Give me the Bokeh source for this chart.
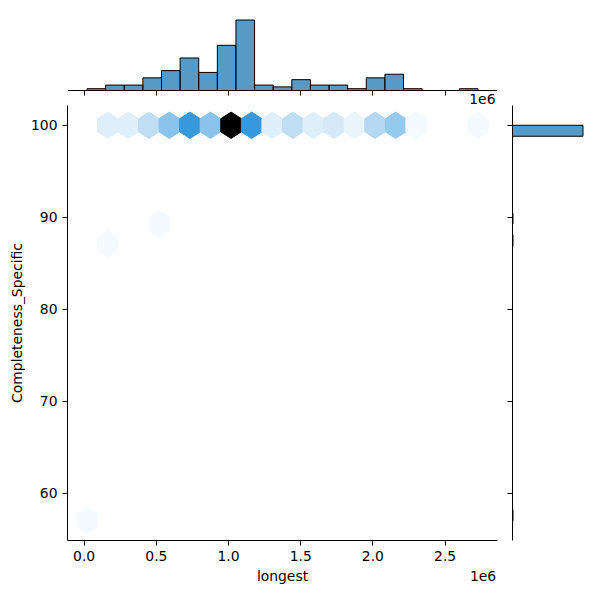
import colorsys
import numpy as np
from bokeh.plotting import figure
from bokeh.layouts import column, row
from bokeh.models import Range1d, FixedTicker, Label, CustomJSTickFormatter, LinearAxis
from bokeh.embed import file_html
from bokeh.resources import INLINE

# ---------------- data ----------------
x_label = "longest"
y_label = "Completeness_Specific"
offset_text = "1e6"

x_min, x_max = 0.02e6, 2.7275e6      # data extent of "longest"
y_min, y_max = 57.0, 100.0           # data extent of "Completeness_Specific"
gridsize = 19

# hex cells: lattice (1 = main grid, 2 = offset grid), column i, row j, count
hex_lattice = [1, 1, 1, 1, 1, 1, 1, 1, 1, 1, 1, 1, 1, 1, 1, 1, 1, 1, 2, 1]
hex_i = [1, 2, 3, 4, 5, 6, 7, 8, 9, 10, 11, 12, 13, 14, 15, 16, 19, 1, 3, 0]
hex_j = [10, 10, 10, 10, 10, 10, 10, 10, 10, 10, 10, 10, 10, 10, 10, 10, 10, 7, 7, 0]
hex_count = [3, 3, 6, 11, 19, 11, 41, 19, 3, 6, 3, 4, 2, 7, 10, 1, 1, 1, 1, 1]

# marginal histograms
x_hist_counts = [1, 3, 3, 7, 11, 18, 10, 25, 39, 3, 2, 6, 3, 3, 1, 7, 9, 1, 0, 0, 1]
y_hist_counts = [1, 0, 0, 0, 0, 0, 0, 0, 0, 0, 0, 0, 0, 0, 0, 0, 0, 0,
                 0, 0, 0, 0, 0, 0, 0, 1, 0, 1, 0, 0, 0, 0, 0, 0, 0, 150]

x_ticks = [0, 500000, 1000000, 1500000, 2000000, 2500000]
y_ticks = [60, 70, 80, 90, 100]

base_color = "#1f77b4"
FONT = "DejaVu Sans"
FS = "13.9px"

# ---------------- derived ----------------
x_pad = 0.05 * (x_max - x_min)
y_pad = 0.05 * (y_max - y_min)
x_range = Range1d(x_min - x_pad, x_max + x_pad)
y_range = Range1d(y_min - y_pad, y_max + y_pad)

sx = (x_max - x_min) / gridsize
ny = int(gridsize / np.sqrt(3))
sy = (y_max - y_min) / ny

# seaborn jointplot colormap: lightness 1 -> 0 in the hue of base colour
r0, g0, b0 = [int(base_color[k:k + 2], 16) / 255 for k in (1, 3, 5)]
h0, l0, s0 = colorsys.rgb_to_hls(r0, g0, b0)
anchors = np.array([colorsys.hls_to_rgb(h0, l, s0) for l in np.linspace(1, 0, 12)])
anchor_pos = np.linspace(0, 1, 12)


def cmap(t):
    rgb = [np.interp(t, anchor_pos, anchors[:, c]) for c in range(3)]
    return "#%02x%02x%02x" % tuple(int(round(v * 255)) for v in rgb)


cmax = max(hex_count)
xs, ys, colors = [], [], []
poly = np.array([[.5, -.5], [.5, .5], [0., 1.], [-.5, .5], [-.5, -.5], [0., -1.]])
for lat, i, j, c in zip(hex_lattice, hex_i, hex_j, hex_count):
    off = 0.0 if lat == 1 else 0.5
    cx = x_min + (i + off) * sx
    cy = y_min + (j + off) * sy
    xs.append(list(cx + poly[:, 0] * sx))
    ys.append(list(cy + poly[:, 1] * sy / 3))
    colors.append(cmap(c / cmax))


def style_axis(ax):
    ax.axis_line_color = "black"
    ax.axis_line_width = 1
    ax.major_tick_line_color = "black"
    ax.major_tick_in = 0
    ax.major_tick_out = 5
    ax.minor_tick_line_color = None
    ax.major_label_text_font = FONT
    ax.major_label_text_font_size = FS
    ax.major_label_text_color = "black"
    ax.axis_label_text_font = FONT
    ax.axis_label_text_font_size = FS
    ax.axis_label_text_font_style = "normal"
    ax.axis_label_text_color = "black"


def hide_labels(ax):
    ax.formatter = CustomJSTickFormatter(code="return '';")
    ax.major_label_text_font_size = "0px"
    ax.major_label_standoff = 0


# ---------------- main hex plot ----------------
p = figure(width=502, height=495, x_range=x_range, y_range=y_range,
           output_backend="svg", toolbar_location=None,
           min_border_left=67, min_border_right=5, min_border_top=0, min_border_bottom=60)
p.patches(xs, ys, fill_color=colors, line_color=colors, line_width=1)
p.xgrid.visible = False
p.ygrid.visible = False
p.outline_line_color = None
p.background_fill_color = "white"
p.border_fill_color = "white"
style_axis(p.xaxis[0])
style_axis(p.yaxis[0])
p.xaxis.ticker = FixedTicker(ticks=x_ticks)
p.xaxis.formatter = CustomJSTickFormatter(code="return (tick/1e6).toFixed(1);")
p.yaxis.ticker = FixedTicker(ticks=y_ticks)
p.yaxis.axis_label = y_label
p.xaxis.major_label_standoff = 5
p.yaxis.major_label_standoff = 5
p.yaxis.axis_label_standoff = 3

# second row under the x axis: axis title (centre) and offset text (right)
span = x_range.end - x_range.start
x_mid = 0.5 * (x_range.start + x_range.end)
x_off = x_range.end - span * 14.5 / 430
title_axis = LinearAxis(
    ticker=FixedTicker(ticks=[x_mid, x_off]),
    formatter=CustomJSTickFormatter(args=dict(lab=x_label, off=offset_text, thr=0.5 * (x_mid + x_off)),
                                    code="return tick > thr ? off : lab;"))
style_axis(title_axis)
title_axis.axis_line_color = None
title_axis.major_tick_line_color = None
title_axis.major_tick_out = 0
title_axis.major_label_standoff = 4
p.add_layout(title_axis, "below")

# ---------------- top marginal ----------------
x_edges = np.linspace(x_min, x_max, len(x_hist_counts) + 1)
top_max = max(x_hist_counts) * 1.05
pt = figure(width=600, height=105, x_range=x_range,
            y_range=Range1d(-top_max * 15 / 74, top_max),
            output_backend="svg", toolbar_location=None,
            min_border_left=67, min_border_right=103, min_border_top=16, min_border_bottom=0)
pt.quad(left=x_edges[:-1], right=x_edges[1:], bottom=0, top=x_hist_counts,
        fill_color=base_color, fill_alpha=0.75, line_color="black", line_width=1)
pt.xgrid.visible = False
pt.ygrid.visible = False
pt.outline_line_color = None
pt.yaxis.visible = False
style_axis(pt.xaxis[0])
hide_labels(pt.xaxis[0])
pt.xaxis.ticker = FixedTicker(ticks=x_ticks)
pt.xaxis.fixed_location = 0
pt.xaxis.major_tick_out = 0
pt.xaxis.major_tick_in = -5
pt.add_layout(Label(x=x_range.end, y=-top_max * 15 / 74, text=offset_text, text_font=FONT,
                    text_font_size=FS, text_align="right", text_baseline="alphabetic",
                    text_color="black", x_offset=-2, y_offset=7))

# ---------------- right marginal ----------------
y_edges = np.linspace(y_min, y_max, len(y_hist_counts) + 1)
yc = np.array(y_hist_counts)
nz = yc > 0
pr = figure(width=98, height=495, y_range=y_range,
            x_range=Range1d(0, max(y_hist_counts) * 1.05),
            output_backend="svg", toolbar_location=None,
            min_border_left=10, min_border_right=14, min_border_top=0, min_border_bottom=60)
pr.quad(left=0, right=yc[nz], bottom=y_edges[:-1][nz], top=y_edges[1:][nz],
        fill_color=base_color, fill_alpha=0.75, line_color="black", line_width=1)
pr.xgrid.visible = False
pr.ygrid.visible = False
pr.outline_line_color = None
pr.xaxis.visible = False
style_axis(pr.yaxis[0])
hide_labels(pr.yaxis[0])
pr.yaxis.ticker = FixedTicker(ticks=y_ticks)

layout = column(pt, row(p, pr, spacing=0), spacing=0)
open("out.html", "w").write(file_html(layout, INLINE))
